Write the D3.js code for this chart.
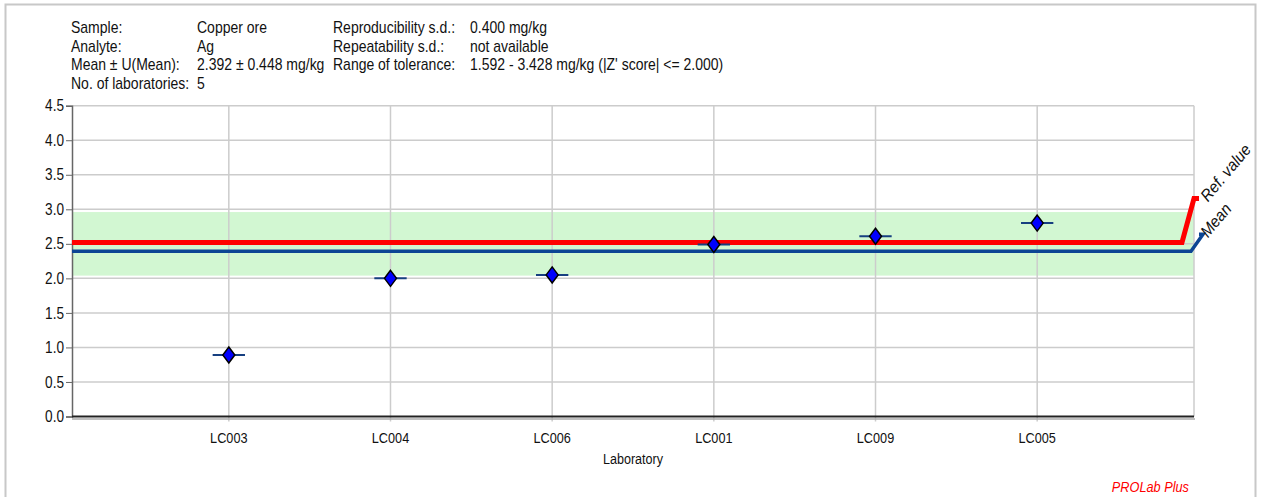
<!DOCTYPE html>
<html lang="en">
<head>
<meta charset="UTF-8">
<title>Ag in copper ore - laboratory results</title>
<script src="https://d3js.org/d3.v7.min.js"></script>
<style>
    body { margin: 0; background: #fff; }
    svg { display: block; }
    text { font-family: "Liberation Sans", Arial, sans-serif; fill: #111; }
</style>
</head>
<body>
<div id="chart"></div>
<script>
// data
const labs = ["LC003", "LC004", "LC006", "LC001", "LC009", "LC005"];
const results = [0.89, 2.00, 2.05, 2.49, 2.61, 2.80];
const yTicks = [0, 0.5, 1, 1.5, 2, 2.5, 3, 3.5, 4, 4.5];
const refValue = 2.52;
const meanValue = 2.392;
const bandLow = 2.04, bandHigh = 2.96;

const headerLeft = [
    ["Sample:", "Copper ore"],
    ["Analyte:", "Ag"],
    ["Mean \u00b1 U(Mean):", "2.392 \u00b1 0.448 mg/kg"],
    ["No. of laboratories:", "5"]
];
const headerRight = [
    ["Reproducibility s.d.:", "0.400 mg/kg"],
    ["Repeatability s.d.:", "not available"],
    ["Range of tolerance:", "1.592 - 3.428 mg/kg (|Z' score| <= 2.000)"]
];

const W = 1264, H = 497;
const plot = { left: 72, right: 1194, top: 105.7, bottom: 416.5 };

const svg = d3.select("#chart").append("svg")
    .attr("width", W).attr("height", H);

// the original fonts look horizontally squeezed, so text is drawn narrower
function label(parent, x, y, str, size, sx, anchor) {
    return parent.append("text")
        .attr("transform", `translate(${x},${y}) scale(${sx},1)`)
        .attr("font-size", size)
        .attr("text-anchor", anchor || "start")
        .text(str);
}

// outer frame (bottom runs off the picture)
svg.append("path")
    .attr("d", `M5.5,${H + 5}V4.5H1255.5V${H + 5}`)
    .attr("fill", "none").attr("stroke", "#c8c8c8").attr("stroke-width", 2);

const x = d3.scalePoint().domain(labs).range([plot.left, plot.right]).padding(0.97);
const y = d3.scaleLinear().domain([0, 4.5]).range([plot.bottom, plot.top]);

// header block
const hdr = svg.append("g");
const rowY = i => 33 + i * 18.5;
headerLeft.forEach((r, i) => {
    label(hdr, 71, rowY(i), r[0], 16, 0.875);
    label(hdr, 197, rowY(i), r[1], 16, 0.875);
});
headerRight.forEach((r, i) => {
    label(hdr, 333, rowY(i), r[0], 16, 0.875);
    label(hdr, 470, rowY(i), r[1], 16, 0.875);
});

// tolerance band
svg.append("rect")
    .attr("x", plot.left).attr("width", plot.right - plot.left)
    .attr("y", y(bandHigh)).attr("height", y(bandLow) - y(bandHigh))
    .attr("fill", "#d2f7d2");

// grid
const grid = svg.append("g").attr("stroke", "#cccccc").attr("stroke-width", 1.5);
grid.selectAll(".h").data(yTicks.slice(1)).join("line")
    .attr("x1", plot.left).attr("x2", plot.right)
    .attr("y1", d => y(d)).attr("y2", d => y(d));
grid.selectAll(".v").data(labs).join("line")
    .attr("x1", d => x(d)).attr("x2", d => x(d))
    .attr("y1", plot.top).attr("y2", plot.bottom + 5);
grid.append("line")
    .attr("x1", plot.right).attr("x2", plot.right)
    .attr("y1", plot.top).attr("y2", plot.bottom);

// y axis
const yAxis = svg.append("g")
    .attr("transform", `translate(${plot.left},0)`)
    .call(d3.axisLeft(y).tickValues(yTicks).tickFormat(d3.format(".1f")).tickSize(6).tickPadding(2));
yAxis.select(".domain").attr("stroke", "#666").attr("stroke-width", 1.5);
yAxis.selectAll(".tick line").attr("stroke", "#666");
yAxis.selectAll(".tick text")
    .attr("font-size", 16).attr("font-family", null).attr("fill", "#111")
    .attr("x", -8 / 0.85).attr("transform", "scale(0.85,1)");

// x axis
svg.append("line")
    .attr("x1", plot.left).attr("x2", plot.right + 1)
    .attr("y1", plot.bottom + 2.5).attr("y2", plot.bottom + 2.5)
    .attr("stroke", "#aaa").attr("stroke-width", 1.5);
svg.append("line")
    .attr("x1", plot.left).attr("x2", plot.right)
    .attr("y1", plot.bottom).attr("y2", plot.bottom)
    .attr("stroke", "#222").attr("stroke-width", 2);
const xl = svg.append("g");
labs.forEach(d => label(xl, x(d), 443, d, 15.5, 0.82, "middle"));
label(svg, (plot.left + plot.right) / 2, 464, "Laboratory", 15, 0.84, "middle");

// reference value and mean lines with their callouts
const step = x.step();
function refLine(val, color, width, xEnd, rise, text) {
    const y0 = y(val);
    svg.append("path")
        .attr("d", `M${plot.left},${y0}H${xEnd}L${xEnd + 12},${y0 - rise}H${plot.right + 5}`)
        .attr("fill", "none").attr("stroke", color).attr("stroke-width", width)
        .attr("stroke-linejoin", "miter");
    svg.append("text")
        .attr("transform", `translate(${plot.right + 14},${y0 - rise + 4}) rotate(-50) scale(0.92,1)`)
        .attr("font-size", 16.5).attr("font-style", "italic")
        .text(text);
}
refLine(refValue, "#ff0000", 5, plot.right - 12, 44, "Ref. value");
refLine(meanValue, "#0c4594", 3.5, plot.right - 3, 17, "Mean");

// lab results: short horizontal bar + diamond
const pts = svg.append("g");
pts.selectAll("line").data(results).join("line")
    .attr("x1", (d, i) => x(labs[i]) - step * 0.1)
    .attr("x2", (d, i) => x(labs[i]) + step * 0.1)
    .attr("y1", d => y(d)).attr("y2", d => y(d))
    .attr("stroke", "#163f80").attr("stroke-width", 2);
pts.selectAll("path").data(results).join("path")
    .attr("d", (d, i) => {
        const cx = x(labs[i]), cy = y(d);
        return `M${cx},${cy - 8}L${cx + 6},${cy}L${cx},${cy + 8}L${cx - 6},${cy}Z`;
    })
    .attr("fill", "#0000ff").attr("stroke", "#000").attr("stroke-width", 1.5);

// software tag
label(svg, 1189, 492, "PROLab Plus", 15, 0.85, "end")
    .attr("font-style", "italic").style("fill", "#ff0000");
</script>
</body>
</html>
